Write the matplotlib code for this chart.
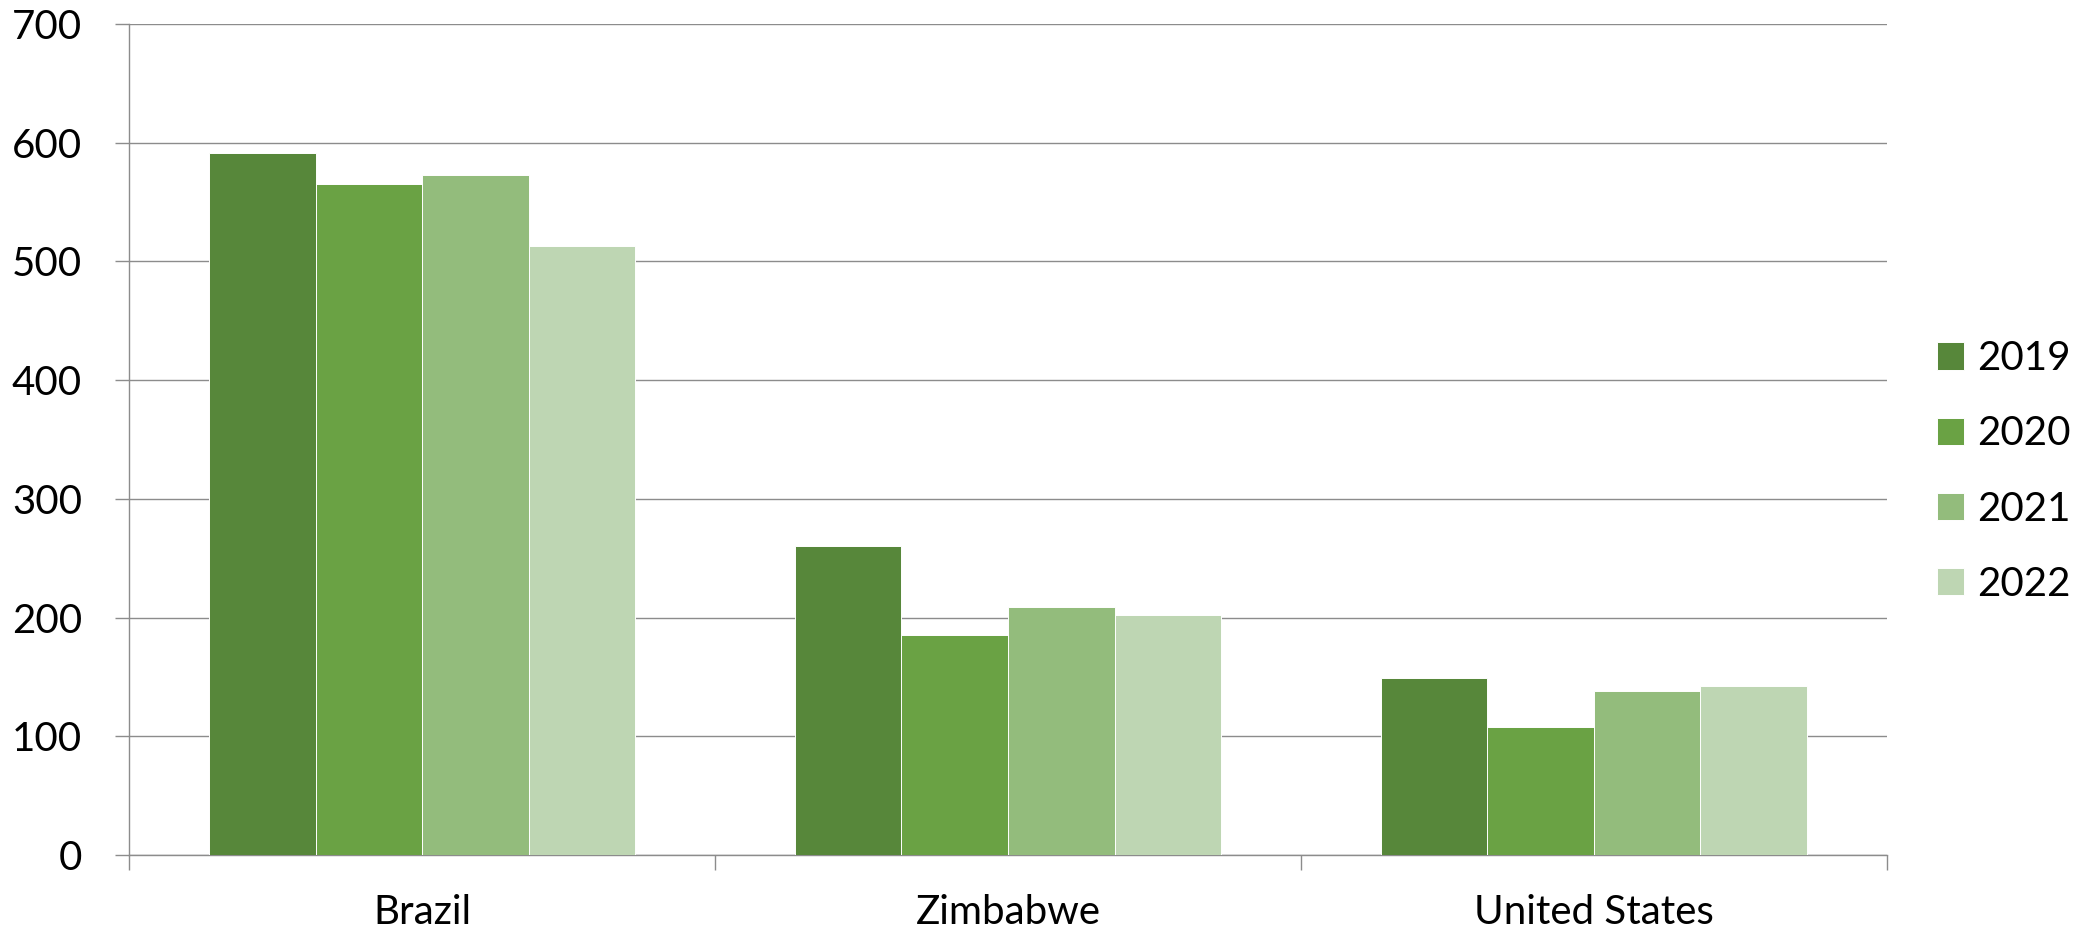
import numpy as np
import matplotlib
matplotlib.use("Agg")
from matplotlib import pyplot as plt

# data
countries = ["Brazil", "Zimbabwe", "United States"]
years = ["2019", "2020", "2021", "2022"]
v2019 = [591, 260, 149]
v2020 = [565, 185, 108]
v2021 = [573, 209, 138]
v2022 = [513, 202, 142]
colors = ["#57873A", "#6AA244", "#93BC7C", "#BED6B3"]

plt.rcParams['font.family'] = ['Lato', 'DejaVu Sans']

fig = plt.figure(figsize=(20.82, 9.40), dpi=100)
ax = fig.add_axes([0.062, 0.0904, 0.8443, 0.8841])

x = np.arange(len(countries))
w = 1 / 5.5
series = [v2019, v2020, v2021, v2022]
for i, (vals, c) in enumerate(zip(series, colors)):
    ax.bar(x + (i - 1.5) * w, vals, width=w, color=c, edgecolor='white',
           linewidth=0.7, label=years[i], zorder=3)

ax.set_xlim(-0.5, len(countries) - 0.5)
ax.set_ylim(0, 700)
ax.set_yticks(range(0, 701, 100))
ax.yaxis.grid(True, color='#8c8c8c', linewidth=1.0, zorder=0)

grey = '#8c8c8c'
for s in ['top', 'right']:
    ax.spines[s].set_visible(False)
ax.spines['left'].set_color(grey)
ax.spines['bottom'].set_color(grey)
ax.spines['left'].set_linewidth(1.0)
ax.spines['bottom'].set_linewidth(1.0)

ax.set_xticks(x)
ax.set_xticklabels(countries)
ax.set_xticks(np.arange(-0.5, len(countries), 1), minor=True)
ax.tick_params(axis='x', which='major', length=0, pad=28, labelsize=29)
ax.tick_params(axis='x', which='minor', length=11, width=1.0, color=grey)
ax.tick_params(axis='y', length=10, width=1.0, color=grey, pad=24, labelsize=29)

ax.legend(loc='center left', bbox_to_anchor=(0.9304, 0.4984),
          bbox_transform=fig.transFigure, frameon=False, fontsize=29,
          handlelength=0.67, handleheight=0.67, handletextpad=0.33,
          labelspacing=0.95, borderpad=0, borderaxespad=0)

fig.savefig("out.png", dpi=100)
